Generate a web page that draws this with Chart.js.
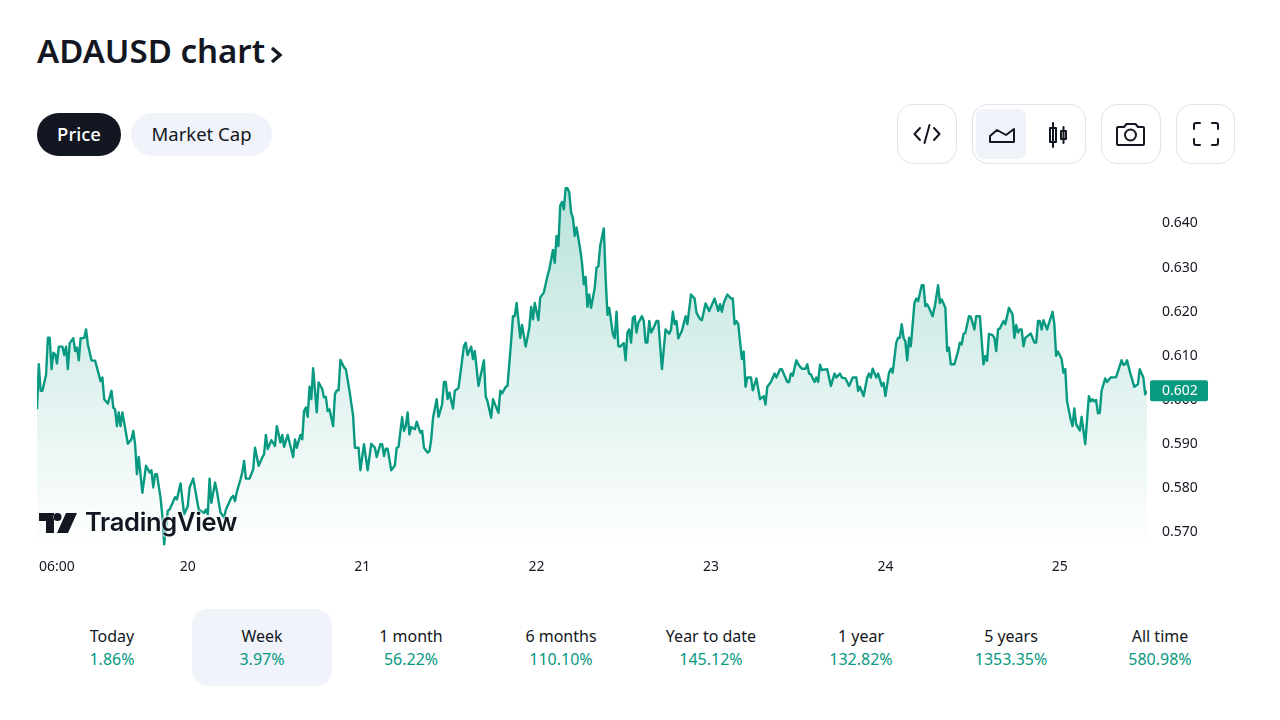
<!DOCTYPE html>
<html><head><meta charset="utf-8">
<script src="https://cdn.jsdelivr.net/npm/chart.js@4"></script>
<style>
html,body{margin:0;padding:0;background:#fff;width:1280px;height:720px;overflow:hidden;font-family:"Noto Sans",sans-serif;color:#131722}
.a{position:absolute}
#title{left:37px;top:28px;font-size:33px;font-weight:600;line-height:46px;white-space:nowrap}
.pill{top:113px;height:43px;border-radius:22px;display:flex;align-items:center;justify-content:center;font-size:18.5px;box-sizing:border-box;padding-bottom:2px}
.box{top:104px;height:60px;border:1px solid #e0e3eb;border-radius:16px;box-sizing:border-box}
.ic{fill:none;stroke:#131722;stroke-width:2;stroke-linecap:round;stroke-linejoin:round}
#chart{left:0;top:171px;width:1280px;height:420px}
#logoText{left:85px;top:503px;font-family:Inter,sans-serif;font-weight:600;font-size:25.5px;line-height:38px;letter-spacing:-.3px;color:#131722;text-shadow:0 0 2px #fff,0 0 3px #fff,0 0 3px #fff}
.per{top:625px;width:150px;text-align:center;font-size:16px;line-height:23px}
.per b{display:block;font-weight:400;color:#089981}
</style></head><body>
<div id="title" class="a">ADAUSD chart</div>
<svg class="a" style="left:268px;top:44px" width="16" height="22"><path d="M4 4 L12 11 L4 18" fill="none" stroke="#131722" stroke-width="3.4"/></svg>
<div class="a pill" style="left:37px;width:84px;background:#131722;color:#fff;font-weight:500">Price</div>
<div class="a pill" style="left:131px;width:141px;background:#f0f3fa">Market Cap</div>

<div class="a box" style="left:897px;width:60px"></div>
<svg class="a" style="left:897px;top:104px" width="60" height="60"><path class="ic" stroke-width="1.8" d="M23 24 L17.5 30 L23 36 M37 24 L42.5 30 L37 36 M32.5 21 L27.5 39"/></svg>
<div class="a box" style="left:972px;width:114px"></div>
<div class="a" style="left:976px;top:109px;width:50px;height:50px;background:#f0f3fa;border-radius:8px"></div>
<svg class="a" style="left:976px;top:109px" width="110" height="50"><path class="ic" d="M14 33 V27 L21 21 L30 26 L38 20 V33 Z"/>
<path class="ic" stroke-width="1.6" d="M77 14 V38 M74 19 H80 V33 H74 Z M87.500 18 V34 M85 22 H90 V30 H85 Z"/></svg>
<div class="a box" style="left:1101px;width:60px"></div>
<svg class="a" style="left:1101px;top:104px" width="60" height="60"><path class="ic" d="M17 23 H23 L25.500 20 H34.500 L37 23 H42 Q43 23 43 24 V40 Q43 41 42 41 H17 Q16 41 16 40 V24 Q16 23 17 23 Z"/><circle class="ic" cx="29.500" cy="31" r="5.500"/></svg>
<div class="a box" style="left:1176px;width:59px"></div>
<svg class="a" style="left:1176px;top:104px" width="60" height="60"><path class="ic" d="M18 25 V21 Q18 19 20 19 H24 M36 19 H40 Q42 19 42 21 V25 M18 35 V39 Q18 41 20 41 H24 M36 41 H40 Q42 41 42 39 V35"/></svg>

<canvas id="chart" class="a" width="1280" height="420"></canvas>

<svg class="a" style="left:39px;top:512px" width="38" height="22"><path fill="#131722" d="M0 1 H15 V21 H7 V9 H0 Z M18.500 9 A4 4 0 1 0 18.500 1 A4 4 0 1 0 18.500 9 Z M27 1 H38 L29 21 H18 Z"/></svg>
<div id="logoText" class="a">TradingView</div>

<div class="a" style="left:192px;top:609px;width:140px;height:77px;background:#f0f3fa;border-radius:16px"></div>
<div id="periods"></div>

<script>
const periods = ["Today","Week","1 month","6 months","Year to date","1 year","5 years","All time"];
const periodChanges = ["1.86%","3.97%","56.22%","110.10%","145.12%","132.82%","1353.35%","580.98%"];
const periodCenters = [112,262,411,561,711,861,1011,1160];

const priceTicks = [0.57,0.58,0.59,0.60,0.61,0.62,0.63,0.64];
const timeTicks = [2.75,20.75,44.75,68.75,92.75,116.75,140.75];
const timeLabels = ["06:00","20","21","22","23","24","25"];

// hours since the first sample
const hours = [
0,.25,.5,.75,1.25,1.5,1.75,2,2.25,2.5,2.75,3,3.5,3.75,4,4.25,4.5,5,5.25,5.5,
5.75,6,6.5,6.75,7,7.5,8,8.75,9,9.25,9.75,10.25,10.5,10.75,11,11.25,11.5,11.75,12,12.5,
13,13.25,13.5,13.75,14,14.5,15,15.5,15.75,16,16.25,16.5,17,17.25,17.5,18,18.25,19,19.25,19.75,
20.25,20.75,21,21.5,22.25,23,23.25,23.5,23.75,24,24.5,24.75,25.25,25.75,26,26.75,27,27.25,27.5,28,
28.25,28.5,28.75,29.25,29.75,30,30.5,31,31.25,31.5,31.75,32.25,32.75,33,33.5,33.75,34,34.5,35.25,35.5,
35.75,36.25,36.5,36.75,37,37.25,37.5,37.75,38,38.5,38.75,39.25,39.5,39.75,40,40.25,40.75,41,41.25,41.5,
41.75,42.25,42.5,43,43.5,43.75,44.25,44.5,45,45.5,46,46.5,46.75,47.25,47.5,47.75,48,48.25,48.75,49.25,
49.5,49.75,50.25,50.5,50.75,51,51.25,51.5,52,52.25,52.75,53,53.25,53.75,54,54.25,54.5,55,55.25,55.75,
56,56.25,56.5,56.75,57.25,57.5,58,58.25,58.75,59,59.25,59.75,60,60.25,60.75,61.5,61.75,62,62.5,62.75,
63.5,63.75,64,64.5,64.75,65.25,65.5,65.75,66,66.5,66.75,67.25,67.75,68,68.25,68.5,69,69.25,69.75,70.25,
70.5,71,71.25,71.5,71.75,72,72.25,72.5,72.75,73,73.25,73.5,73.75,74,74.25,74.75,75,75.25,75.5,75.75,
76,76.25,76.75,77,77.25,77.5,78,78.25,78.5,78.75,79.25,79.5,79.75,80,80.25,80.75,81,81.25,81.5,81.75,
82,82.25,82.5,82.75,83.25,83.5,83.75,84,84.25,84.5,84.75,85.25,85.5,86,86.5,87,87.25,87.5,87.75,88,
88.25,88.75,89.25,89.5,90,90.5,90.75,91.25,91.5,92,92.5,93.25,93.75,94,94.25,94.5,95,95.5,95.75,96,
96.25,96.5,97,97.25,97.5,97.75,98.25,98.5,99,99.5,100,100.25,100.5,101,101.5,101.75,102.25,102.5,103.25,103.5,
103.75,104,104.5,104.75,105.25,105.75,106,106.25,106.5,107,107.25,107.5,107.75,108,108.75,109.25,109.75,110,110.5,110.75,
111.25,111.75,112.25,112.75,113,113.25,113.75,114.25,114.5,114.75,115,115.5,115.75,116.25,116.5,116.75,117.25,117.5,117.75,118.25,
118.5,118.75,119,119.25,119.5,119.75,120,120.25,120.75,121,121.25,121.75,122,122.25,122.5,122.75,123.25,123.6,124,124.25,
124.5,125,125.25,125.5,125.75,126.25,126.75,127,127.25,127.5,127.75,128.25,128.5,129,129.25,129.75,130.25,130.5,130.75,131,
131.5,131.75,132,132.25,132.5,133,133.25,133.75,134.25,134.5,134.75,135,135.25,135.5,135.75,136,136.75,137.25,137.5,137.75,
138,138.25,138.5,139,139.75,140,140.25,140.5,141,141.25,141.5,141.75,142.25,142.5,142.75,143,143.5,143.75,144.25,144.75,
145,145.25,145.5,145.75,146,146.25,146.5,147,147.25,147.75,148.5,149.25,149.5,149.75,150,150.5,151,151.5,151.75,152.25,
152.5,152.75];

const prices = [
.5979,.6081,.6021,.6021,.6058,.6141,.6141,.6070,.6107,.6104,.6083,.6121,.6121,.6102,.6121,.6070,.6129,.6140,.6111,.6119,
.6090,.6140,.6141,.6160,.6126,.6090,.6089,.6043,.6051,.6002,.5992,.6021,.5983,.5979,.5941,.5972,.5941,.5972,.5949,.5901,
.5911,.5930,.5900,.5832,.5871,.5790,.5851,.5836,.5841,.5802,.5832,.5832,.5779,.5737,.5673,.5749,.5752,.5780,.5775,.5811,
.5741,.5760,.5802,.5822,.5752,.5744,.5752,.5741,.5822,.5767,.5813,.5794,.5745,.5734,.5752,.5779,.5783,.5771,.5792,.5820,
.5836,.5862,.5822,.5822,.5843,.5892,.5851,.5870,.5877,.5921,.5889,.5909,.5896,.5941,.5904,.5921,.5894,.5921,.5871,.5911,
.5892,.5921,.5911,.5975,.5983,.5962,.6030,.6002,.6072,.5972,.6040,.6025,.6006,.6007,.5975,.5979,.5941,.6013,.6022,.6022,
.6091,.6074,.6070,.6021,.5964,.5892,.5892,.5841,.5900,.5841,.5901,.5892,.5871,.5900,.5900,.5873,.5890,.5890,.5841,.5852,
.5892,.5894,.5961,.5930,.5941,.5972,.5922,.5939,.5934,.5951,.5926,.5930,.5892,.5881,.5884,.5911,.5960,.6002,.5962,.5990,
.6041,.6041,.6002,.6017,.5981,.6021,.6027,.6058,.6122,.6130,.6102,.6121,.6093,.6111,.6032,.6090,.6008,.5997,.5960,.6002,
.5971,.6021,.6015,.6030,.6032,.6134,.6190,.6190,.6220,.6141,.6170,.6121,.6164,.6211,.6183,.6220,.6181,.6232,.6244,.6281,
.6296,.6340,.6311,.6372,.6349,.6440,.6449,.6432,.6480,.6480,.6470,.6425,.6413,.6372,.6391,.6342,.6311,.6262,.6279,.6211,
.6239,.6209,.6254,.6300,.6303,.6349,.6389,.6277,.6193,.6209,.6149,.6140,.6200,.6122,.6121,.6129,.6090,.6153,.6160,.6130,
.6186,.6190,.6153,.6175,.6190,.6179,.6130,.6130,.6179,.6153,.6160,.6179,.6179,.6070,.6160,.6150,.6160,.6200,.6172,.6179,
.6140,.6157,.6190,.6172,.6239,.6230,.6198,.6183,.6181,.6219,.6202,.6230,.6202,.6217,.6200,.6220,.6239,.6230,.6230,.6172,
.6179,.6172,.6093,.6110,.6030,.6051,.6051,.6022,.6049,.6002,.6009,.5990,.6030,.6041,.6060,.6051,.6070,.6070,.6041,.6041,
.6060,.6055,.6090,.6081,.6071,.6071,.6081,.6060,.6058,.6041,.6051,.6041,.6080,.6068,.6070,.6032,.6060,.6051,.6060,.6051,
.6049,.6032,.6051,.6051,.6021,.6030,.6009,.6051,.6060,.6051,.6071,.6051,.6060,.6032,.6039,.6009,.6062,.6071,.6062,.6130,
.6141,.6141,.6172,.6141,.6133,.6090,.6141,.6122,.6220,.6230,.6224,.6260,.6260,.6213,.6217,.6209,.6190,.6217,.6260,.6220,
.6228,.6209,.6111,.6119,.6081,.6081,.6111,.6130,.6126,.6150,.6152,.6190,.6189,.6160,.6190,.6190,.6081,.6100,.6089,.6150,
.6147,.6141,.6111,.6160,.6162,.6179,.6172,.6209,.6194,.6141,.6170,.6153,.6160,.6160,.6122,.6141,.6151,.6130,.6130,.6179,
.6179,.6160,.6181,.6160,.6200,.6172,.6100,.6110,.6093,.6062,.6070,.5997,.5956,.5941,.5981,.5945,.5931,.5962,.5900,.6009,
.5997,.6002,.5997,.6000,.5970,.5971,.6021,.6049,.6041,.6051,.6052,.6090,.6080,.6081,.6090,.6058,.6030,.6036,.6070,.6051,
.6013,.6021];

const lineColor = "#089981";
const labelFont = '14px "Noto Sans", sans-serif';

document.getElementById("periods").innerHTML = periods.map((p,i)=>
  `<div class="a per" style="left:${periodCenters[i]-75}px">${p}<b>${periodChanges[i]}</b></div>`).join("");

const priceBadge = {
  id:"priceBadge",
  afterDraw(c){
    const last = prices[prices.length-1];
    const y = c.scales.y.getPixelForValue(last);
    const g = c.ctx;
    g.save();
    g.fillStyle = lineColor;
    g.beginPath();
    g.roundRect(1150, y-10.5, 58, 21, 2);
    g.fill();
    g.fillStyle = "#fff";
    g.font = labelFont;
    g.textBaseline = "middle";
    g.fillText(last.toFixed(3), 1162, y+0.5);
    g.restore();
  }
};

new Chart(document.getElementById("chart"),{
  type:"line",
  data:{datasets:[{
    data:hours.map((h,i)=>({x:h,y:prices[i]})),
    borderColor:lineColor,
    borderWidth:2.4,
    tension:0,
    pointRadius:0,
    borderJoinStyle:"round",
    fill:"start",
    backgroundColor(ctx){
      const a = ctx.chart.chartArea;
      if(!a) return "transparent";
      const g = ctx.chart.ctx.createLinearGradient(0,a.top+8,0,a.bottom-6);
      g.addColorStop(0,"rgba(8,153,129,0.28)");
      g.addColorStop(1,"rgba(8,153,129,0)");
      return g;
    }
  }]},
  plugins:[priceBadge],
  options:{
    responsive:false,
    animation:false,
    parsing:false,
    normalized:true,
    layout:{padding:{left:37,right:0,top:10,bottom:0}},
    plugins:{legend:{display:false},tooltip:{enabled:false}},
    scales:{
      x:{
        type:"linear",min:hours[0],max:hours[hours.length-1],
        grid:{display:false,drawTicks:false},border:{display:false},
        afterBuildTicks(a){a.ticks=timeTicks.map(v=>({value:v}));},
        afterFit(a){a.height=37;a.paddingLeft=0;a.paddingRight=0;},
        ticks:{
          autoSkip:false,maxRotation:0,padding:5,
          color:"#131722",font:{family:'"Noto Sans", sans-serif',size:14},
          callback(v){const i=timeTicks.indexOf(v);return i>=0?timeLabels[i]:"";}
        }
      },
      y:{
        position:"right",min:0.56512,max:0.64963,
        grid:{display:false,drawTicks:false},border:{display:false},
        afterBuildTicks(a){a.ticks=priceTicks.map(v=>({value:v}));},
        afterFit(a){a.width=133;a.paddingTop=0;a.paddingBottom=0;},
        ticks:{
          padding:15,color:"#131722",font:{family:'"Noto Sans", sans-serif',size:14},
          callback(v){return v.toFixed(3);}
        }
      }
    }
  }
});
</script>
</body></html>
